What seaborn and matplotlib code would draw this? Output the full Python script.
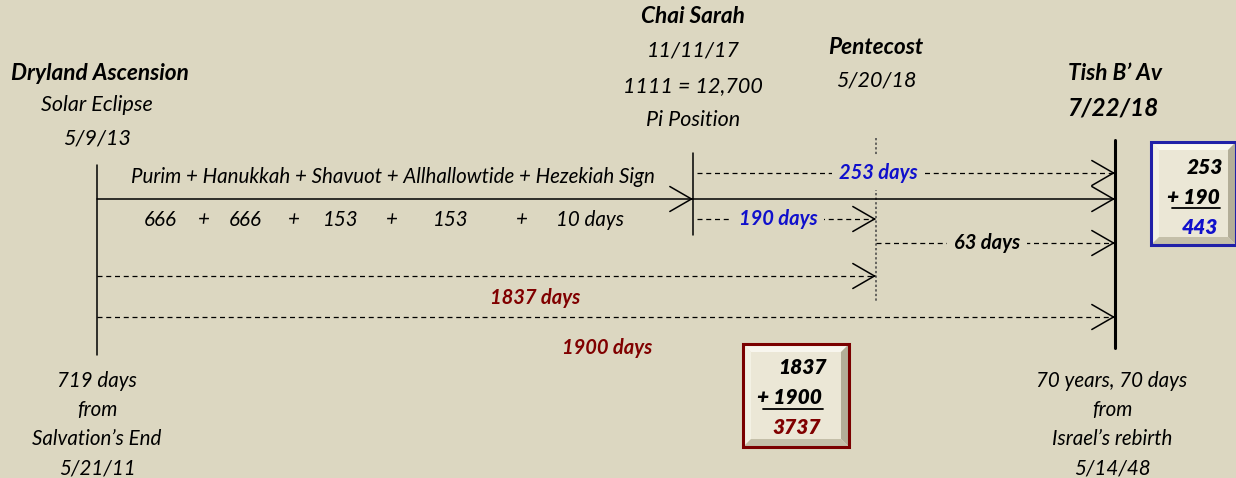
import matplotlib
matplotlib.use('Agg')
import matplotlib.pyplot as plt
import seaborn as sns
import pandas as pd
from matplotlib.patches import Rectangle, Polygon

###########################################################################
# data

event_names = ['Dryland Ascension', 'Chai Sarah', 'Pentecost', 'Tish B\u2019 Av']
event_subtitles = [['Solar Eclipse', '5/9/13'],
                   ['11/11/17', '1111 = 12,700', 'Pi Position'],
                   ['5/20/18'],
                   ['7/22/18']]
feast_names = 'Purim + Hanukkah + Shavuot + Allhallowtide + Hezekiah Sign'
feast_terms = ['666', '+', '666', '+', '153', '+', '153', '+', '10 days']
# spans: (start event, end event, days)
span_start = [1, 1, 2, 0, 0]
span_end = [3, 2, 3, 2, 3]
span_days = [253, 190, 63, 1837, 1900]
left_note = ['719 days', 'from', 'Salvation\u2019s End', '5/21/11']
right_note = ['70 years, 70 days', 'from', 'Israel\u2019s rebirth', '5/14/48']
sum_blue = [253, 190]
sum_red = [1837, 1900]

###########################################################################
# layout (pixel-like schematic coordinates)

event_x = [97, 693, 876, 1115]
span_y = [173, 219, 243, 276, 317]
span_label_x = [878, 778, 987, 535, 607]
span_label_y = [173, 219, 243, 298, 348]
span_color = ['#1010cc', '#1010cc', 'black', '#800000', '#800000']
span_label_bg = [True, True, True, False, False]
term_x = [160, 204, 245, 294, 341, 392, 451, 522, 590]
title_y = [73, 16, 47, 73]
sub_y = [[105, 138], [50, 86, 120], [80], [108]]
main_y = 199

bg = '#dcd7c1'
blue = '#1010cc'
red = '#800000'
font = ['Lato', 'DejaVu Sans']

sns.set_theme(style='white')
plt.rcParams['font.family'] = font

fig = plt.figure(figsize=(12.36, 4.78), dpi=100, facecolor=bg)
ax = fig.add_axes([0, 0, 1, 1])
ax.set_facecolor(bg)
ax.set_xlim(0, 1236)
ax.set_ylim(478, 0)
ax.axis('off')


def head(x, y, color='black'):
    ax.annotate('', xy=(x, y), xytext=(x - 2, y),
                arrowprops=dict(arrowstyle='->, head_length=1.3, head_width=0.75',
                                color=color, lw=1.1, shrinkA=0, shrinkB=0))


# vertical event markers
ax.plot([event_x[0]] * 2, [165, 355], color='black', lw=1.1)
ax.plot([event_x[1]] * 2, [153, 235], color='black', lw=1.1)
ax.plot([event_x[2]] * 2, [138, 302], color='#444444', lw=1.1,
        linestyle=(0, (1.5, 1.5)))
ax.plot([event_x[3]] * 2, [140, 348], color='black', lw=2.2)

# main solid timeline
line_df = pd.DataFrame({'x': [event_x[0], event_x[1], event_x[3]],
                        'y': [main_y] * 3})
sns.lineplot(data=line_df, x='x', y='y', color='black', lw=1.1, ax=ax,
             estimator=None, sort=False)
head(event_x[1], main_y)
head(event_x[3], main_y)

# dashed day spans
for s, e, d, y, lx, ly, c, has_bg in zip(span_start, span_end, span_days, span_y,
                                         span_label_x, span_label_y, span_color,
                                         span_label_bg):
    x0 = event_x[s] + (4 if s == 1 else 0)
    ax.plot([x0, event_x[e] - 2], [y, y], color='black', lw=0.9,
            linestyle=(0, (4, 3)))
    head(event_x[e], y)
    bbox = dict(facecolor=bg, edgecolor='none', pad=5) if has_bg else None
    ax.text(lx, ly, f'{d} days', ha='center', va='center', fontsize=14.5,
            fontweight='bold', fontstyle='italic', color=c, bbox=bbox)

# event titles
for x, name, ty, subs, sys in zip(event_x, event_names, title_y,
                                  event_subtitles, sub_y):
    ax.text(x + (3 if x == 97 else 0), ty, name, ha='center', va='center',
            fontsize=16.3, fontweight='bold', fontstyle='italic', color='black')
    for t, yy in zip(subs, sys):
        bold = (t == '7/22/18')
        ax.text(x - (2 if bold else 0), yy, t, ha='center', va='center',
                fontsize=17.5 if bold else 15.5,
                fontweight='bold' if bold else 'normal',
                fontstyle='italic', color='black')

# feast names and day terms
ax.text(393, 177, feast_names, ha='center', va='center', fontsize=14.8,
        fontstyle='italic', color='black')
for t, x in zip(feast_terms, term_x):
    ax.text(x, 220, t, ha='center', va='center', fontsize=14.8,
            fontstyle='italic', color='black')

# bottom notes
for i, t in enumerate(left_note):
    ax.text(97, 381 + i * 29, t, ha='center', va='center', fontsize=14.8,
            fontstyle='italic', color='black')
for i, t in enumerate(right_note):
    ax.text(1112, 381 + i * 29, t, ha='center', va='center', fontsize=14.8,
            fontstyle='italic', color='black')


def sum_box(x0, y0, w, h, edge, vals, total_color, rx, ys, ux):
    # bevelled button
    ax.add_patch(Rectangle((x0, y0), w, h, facecolor='#ebe7d6',
                           edgecolor='none', zorder=3))
    b = 8
    ax.add_patch(Polygon([(x0, y0), (x0 + w, y0), (x0 + w - b, y0 + b),
                          (x0 + b, y0 + b)], closed=True,
                         facecolor='#f8f6ee', edgecolor='none', zorder=3))
    ax.add_patch(Polygon([(x0, y0), (x0 + b, y0 + b), (x0 + b, y0 + h - b),
                          (x0, y0 + h)], closed=True,
                         facecolor='#f3f1e4', edgecolor='none', zorder=3))
    ax.add_patch(Polygon([(x0 + w, y0), (x0 + w, y0 + h), (x0 + w - b, y0 + h - b),
                          (x0 + w - b, y0 + b)], closed=True,
                         facecolor='#b3ae98', edgecolor='none', zorder=3))
    ax.add_patch(Polygon([(x0, y0 + h), (x0 + w, y0 + h),
                          (x0 + w - b, y0 + h - b), (x0 + b, y0 + h - b)],
                         closed=True, facecolor='#c4bfa9', edgecolor='none',
                         zorder=3))
    ax.add_patch(Rectangle((x0, y0), w, h, facecolor='none', edgecolor=edge,
                           lw=2.2, zorder=4))
    ax.text(rx[0], ys[0], f'{vals[0]}', ha='right', va='center', fontsize=15,
            fontweight='heavy', fontstyle='italic', color='black', zorder=5)
    ax.text(rx[1], ys[1], f'+ {vals[1]}', ha='right', va='center', fontsize=15,
            fontweight='heavy', fontstyle='italic', color='black', zorder=5)
    ax.plot(ux, [ys[1] + 11, ys[1] + 11], color='black', lw=1.3, zorder=5)
    ax.text(rx[2], ys[2], f'{sum(vals)}', ha='right', va='center',
            fontsize=15, fontweight='heavy', fontstyle='italic',
            color=total_color, zorder=5)


sum_box(1151, 142, 85, 103, '#2020a8', sum_blue, blue,
        [1223, 1220, 1218], [167, 197, 227], [1172, 1220])
sum_box(743, 344, 106, 103, '#7a0000', sum_red, red,
        [827, 822, 821], [368, 398, 428], [763, 823])

fig.savefig('out.png', dpi=100, facecolor=bg)
